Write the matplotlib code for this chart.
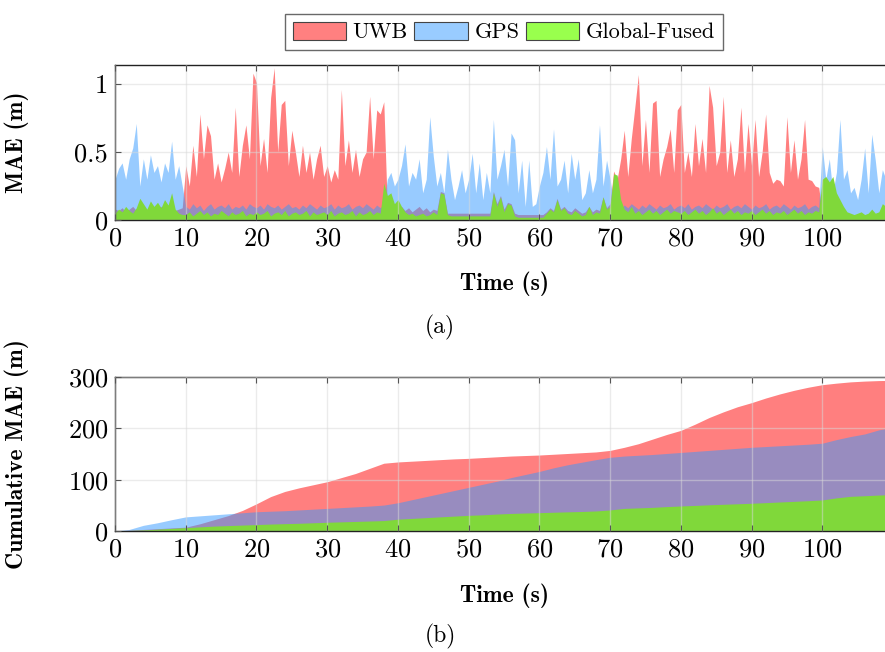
import numpy as np
import matplotlib
matplotlib.use('Agg')
import matplotlib.pyplot as plt
from matplotlib.patches import Patch

plt.rcParams['font.family'] = 'cmr10'
plt.rcParams['axes.formatter.use_mathtext'] = True

# per-sample MAE, one value every 0.5 s from 0 to 109 s
time_top = np.arange(0, 109.5, 0.5)

uwb_mae = (
    [0.08, 0.07, 0.09, 0.06, 0.08, 0.10, 0.07, 0.09, 0.08, 0.06, 0.09, 0.08, 0.07, 0.10, 0.08, 0.06, 0.09, 0.07, 0.08, 0.09]
    + [0.40, 0.25, 0.55, 0.32, 0.78, 0.45, 0.70, 0.62, 0.30, 0.42, 0.28, 0.38, 0.50, 0.35, 0.83, 0.32, 0.55, 0.70, 0.45, 1.08]
    + [1.01, 0.40, 0.60, 0.35, 0.90, 1.12, 0.50, 0.85, 0.88, 0.40, 0.66, 0.50, 0.32, 0.55, 0.35, 0.50, 0.30, 0.45, 0.55, 0.32]
    + [0.40, 0.28, 0.37, 0.30, 0.96, 0.40, 0.59, 0.35, 0.52, 0.32, 0.45, 0.50, 0.91, 0.45, 0.81, 0.78, 0.87, 0.08, 0.07, 0.09]
    + [0.08, 0.10, 0.07, 0.09, 0.06, 0.08, 0.10, 0.07, 0.09, 0.06, 0.08, 0.07, 0.21, 0.20, 0.05, 0.05, 0.05, 0.05, 0.05, 0.05]
    + [0.05, 0.05, 0.05, 0.05, 0.05, 0.05, 0.05, 0.21, 0.12, 0.18, 0.08, 0.13, 0.12, 0.05, 0.04, 0.04, 0.04, 0.04, 0.04, 0.04]
    + [0.04, 0.04, 0.06, 0.09, 0.07, 0.16, 0.08, 0.10, 0.07, 0.06, 0.09, 0.07, 0.05, 0.06, 0.10, 0.06, 0.08, 0.07, 0.17, 0.09]
    + [0.12, 0.36, 0.30, 0.45, 0.66, 0.32, 0.60, 0.83, 1.07, 0.40, 0.74, 0.35, 0.86, 0.88, 0.32, 0.45, 0.54, 0.67, 0.35, 0.81]
    + [0.85, 0.35, 0.50, 0.32, 0.71, 0.40, 0.60, 0.35, 0.99, 0.83, 0.40, 0.50, 0.91, 0.35, 0.59, 0.32, 0.45, 0.83, 0.35, 0.71]
    + [0.40, 0.74, 0.32, 0.50, 0.78, 0.35, 0.27, 0.30, 0.29, 0.25, 0.76, 0.35, 0.59, 0.30, 0.45, 0.74, 0.30, 0.29, 0.25, 0.24]
    + [0.05, 0.04, 0.06, 0.03, 0.05, 0.04, 0.03, 0.05, 0.04, 0.03, 0.04, 0.05, 0.03, 0.04, 0.06, 0.04, 0.03, 0.05, 0.04]
)

gps_mae = (
    [0.30, 0.38, 0.42, 0.30, 0.45, 0.53, 0.71, 0.25, 0.45, 0.30, 0.48, 0.35, 0.40, 0.28, 0.42, 0.35, 0.58, 0.30, 0.40, 0.25]
    + [0.10, 0.08, 0.12, 0.09, 0.11, 0.07, 0.10, 0.12, 0.08, 0.10, 0.11, 0.09, 0.12, 0.08, 0.10, 0.09, 0.11, 0.08, 0.12, 0.10]
    + [0.09, 0.11, 0.08, 0.12, 0.10, 0.09, 0.11, 0.08, 0.10, 0.12, 0.09, 0.10, 0.08, 0.11, 0.09, 0.12, 0.10, 0.08, 0.11, 0.09]
    + [0.10, 0.12, 0.08, 0.11, 0.09, 0.10, 0.12, 0.08, 0.10, 0.11, 0.09, 0.12, 0.10, 0.08, 0.11, 0.09, 0.12, 0.30, 0.35, 0.25]
    + [0.30, 0.40, 0.56, 0.25, 0.35, 0.30, 0.45, 0.20, 0.30, 0.76, 0.47, 0.25, 0.35, 0.20, 0.52, 0.30, 0.15, 0.25, 0.37, 0.20]
    + [0.30, 0.49, 0.20, 0.42, 0.15, 0.35, 0.20, 0.74, 0.30, 0.40, 0.52, 0.25, 0.64, 0.59, 0.20, 0.44, 0.10, 0.44, 0.10, 0.12]
    + [0.25, 0.35, 0.54, 0.30, 0.67, 0.25, 0.30, 0.44, 0.20, 0.49, 0.30, 0.45, 0.15, 0.20, 0.37, 0.20, 0.30, 0.70, 0.25, 0.44]
    + [0.30, 0.12, 0.10, 0.08, 0.11, 0.09, 0.12, 0.10, 0.08, 0.11, 0.09, 0.12, 0.10, 0.08, 0.11, 0.09, 0.10, 0.12, 0.08, 0.10]
    + [0.11, 0.09, 0.12, 0.08, 0.10, 0.11, 0.09, 0.12, 0.10, 0.08, 0.11, 0.09, 0.10, 0.12, 0.08, 0.10, 0.11, 0.09, 0.12, 0.10]
    + [0.08, 0.11, 0.09, 0.10, 0.12, 0.08, 0.10, 0.11, 0.09, 0.12, 0.10, 0.08, 0.11, 0.09, 0.10, 0.12, 0.08, 0.10, 0.11, 0.09]
    + [0.54, 0.30, 0.45, 0.20, 0.35, 0.74, 0.30, 0.37, 0.20, 0.24, 0.15, 0.30, 0.53, 0.20, 0.63, 0.44, 0.20, 0.37, 0.30]
)

fused_mae = (
    [0.05, 0.08, 0.06, 0.10, 0.07, 0.05, 0.09, 0.16, 0.12, 0.08, 0.14, 0.10, 0.13, 0.09, 0.15, 0.11, 0.20, 0.08, 0.05, 0.04]
    + [0.04, 0.06, 0.03, 0.05, 0.07, 0.04, 0.06, 0.03, 0.05, 0.04, 0.07, 0.05, 0.03, 0.06, 0.04, 0.05, 0.07, 0.03, 0.05, 0.04]
    + [0.06, 0.04, 0.05, 0.07, 0.03, 0.05, 0.06, 0.04, 0.07, 0.03, 0.05, 0.06, 0.04, 0.05, 0.07, 0.03, 0.06, 0.04, 0.05, 0.06]
    + [0.04, 0.07, 0.03, 0.05, 0.06, 0.04, 0.05, 0.07, 0.03, 0.06, 0.04, 0.05, 0.07, 0.04, 0.06, 0.05, 0.27, 0.18, 0.20, 0.12]
    + [0.15, 0.10, 0.06, 0.04, 0.05, 0.03, 0.04, 0.05, 0.03, 0.04, 0.06, 0.04, 0.20, 0.19, 0.04, 0.03, 0.03, 0.03, 0.03, 0.03]
    + [0.03, 0.03, 0.03, 0.03, 0.03, 0.03, 0.03, 0.20, 0.10, 0.17, 0.06, 0.12, 0.11, 0.03, 0.02, 0.02, 0.02, 0.02, 0.02, 0.02]
    + [0.02, 0.02, 0.05, 0.08, 0.06, 0.15, 0.07, 0.09, 0.05, 0.04, 0.07, 0.05, 0.03, 0.04, 0.10, 0.04, 0.06, 0.05, 0.17, 0.08]
    + [0.10, 0.34, 0.33, 0.15, 0.08, 0.06, 0.10, 0.05, 0.07, 0.04, 0.06, 0.08, 0.05, 0.07, 0.04, 0.06, 0.08, 0.05, 0.07, 0.06]
    + [0.05, 0.07, 0.04, 0.06, 0.08, 0.05, 0.07, 0.04, 0.06, 0.09, 0.05, 0.07, 0.04, 0.06, 0.08, 0.05, 0.07, 0.04, 0.06, 0.05]
    + [0.07, 0.04, 0.06, 0.08, 0.05, 0.07, 0.04, 0.06, 0.05, 0.07, 0.04, 0.06, 0.08, 0.05, 0.07, 0.04, 0.06, 0.05, 0.07, 0.06]
    + [0.30, 0.32, 0.28, 0.32, 0.20, 0.15, 0.10, 0.06, 0.05, 0.04, 0.05, 0.06, 0.04, 0.05, 0.08, 0.05, 0.06, 0.12, 0.10]
)

# cumulative MAE, every 2 s
time_cum = np.arange(0, 111, 2)

uwb_cum = [0, 1.5, 3, 4.5, 6, 7.5, 14, 22, 30, 40, 53, 67, 77, 84, 90,
           96, 104, 112, 122, 132, 134.5, 136, 137.5, 139, 140.5,
           141.5, 143, 144.5, 146, 147, 148, 149.5, 151, 152.5, 154,
           157, 163, 170, 179, 188, 196, 208, 221, 232, 242,
           250, 259, 267, 274, 280, 285, 288, 290.5, 292, 293, 293.5]
gps_cum = [0, 3, 11, 16, 22, 27.5, 29.5, 31.5, 33.5, 35.5, 37.5, 38.5, 39.5, 41, 42.5,
           44, 45.5, 47, 48.5, 50.5, 55, 61, 67, 73, 79,
           85, 91, 97, 104, 110, 116, 123, 129, 134, 139,
           143.5, 146, 147.5, 149, 151, 153, 155, 157, 159, 161,
           163, 164.5, 166, 167.5, 169, 171, 178, 184, 189, 197, 202]
fused_cum = [0, 1, 2, 3.5, 5, 6.5, 8, 9.5, 10.5, 11.5, 12.5, 13.5, 14.3, 15, 16,
             17, 17.8, 18.6, 19.4, 20.3, 23, 24.5, 26, 27.5, 29,
             30.5, 31.5, 33, 34.2, 35, 35.7, 36.5, 37.3, 38, 39,
             41, 44, 45, 46, 47.5, 48.7, 49.8, 51, 52, 53,
             54, 55.2, 56.5, 57.7, 59, 60.4, 64.5, 67.5, 68.7, 70, 71]

labels = ['UWB', 'GPS', 'Global-Fused']

red = (1.0, 0.0, 0.0)
blue = (0.2, 0.6, 1.0)
green = '#80d83a'

fig = plt.figure(figsize=(8.85, 6.52), dpi=100)
ax1 = fig.add_axes([0.130, 0.6626, 0.879, 0.2377])
ax2 = fig.add_axes([0.130, 0.1856, 0.879, 0.2362])


def style_axis(ax):
    ax.set_xlim(0, 110)
    ax.set_xticks(np.arange(0, 110, 10))
    ax.tick_params(direction='in', top=True, right=True, length=4, width=0.8,
                   color='#555555', labelsize=19, pad=5)
    ax.grid(True, color='#d9d9d9', alpha=0.5, lw=1.0)
    ax.set_axisbelow(False)
    for s in ax.spines.values():
        s.set_linewidth(1.0)
        s.set_color('#222222')
    ax.set_xlabel('Time (s)', family='cmb10', fontsize=17)


ax1.fill_between(time_top, 0, uwb_mae, color=red, alpha=0.5, lw=0)
ax1.fill_between(time_top, 0, gps_mae, color=blue, alpha=0.5, lw=0)
ax1.fill_between(time_top, 0, fused_mae, color=green, lw=0)
style_axis(ax1)
ax1.set_ylim(0, 1.14)
ax1.set_yticks([0, 0.5, 1])
ax1.set_yticklabels(['0', '0.5', '1'])
ax1.set_ylabel('MAE (m)', family='cmb10', fontsize=17)
ax1.yaxis.set_label_coords(-0.111, 0.5)
ax1.xaxis.set_label_coords(0.5, -0.33)

ax2.fill_between(time_cum, 0, uwb_cum, color=red, alpha=0.5, lw=0)
ax2.fill_between(time_cum, 0, gps_cum, color=blue, alpha=0.5, lw=0)
ax2.fill_between(time_cum, 0, fused_cum, color=green, lw=0)
style_axis(ax2)
ax2.set_ylim(0, 300)
ax2.set_yticks([0, 100, 200, 300])
ax2.set_ylabel('Cumulative MAE (m)', family='cmb10', fontsize=17)
ax2.yaxis.set_label_coords(-0.111, 0.5)
ax2.xaxis.set_label_coords(0.5, -0.34)

handles = [Patch(facecolor='#ff8080', edgecolor='#444444', lw=0.8),
           Patch(facecolor='#99ccff', edgecolor='#444444', lw=0.8),
           Patch(facecolor='#99ff4d', edgecolor='#444444', lw=0.8)]
fig.legend(handles, labels, loc='center', bbox_to_anchor=(504 / 885, 0.951),
           ncol=3, fontsize=16, frameon=True, fancybox=False, edgecolor='#444444',
           handlelength=2.4, handleheight=0.9, handletextpad=0.3, columnspacing=0.3,
           borderpad=0.35, borderaxespad=0)

fig.text(440 / 885, 1 - 327 / 652, '(a)', ha='center', va='center', fontsize=17)
fig.text(440 / 885, 1 - 636 / 652, '(b)', ha='center', va='center', fontsize=17)

fig.savefig('out.png', dpi=100)
